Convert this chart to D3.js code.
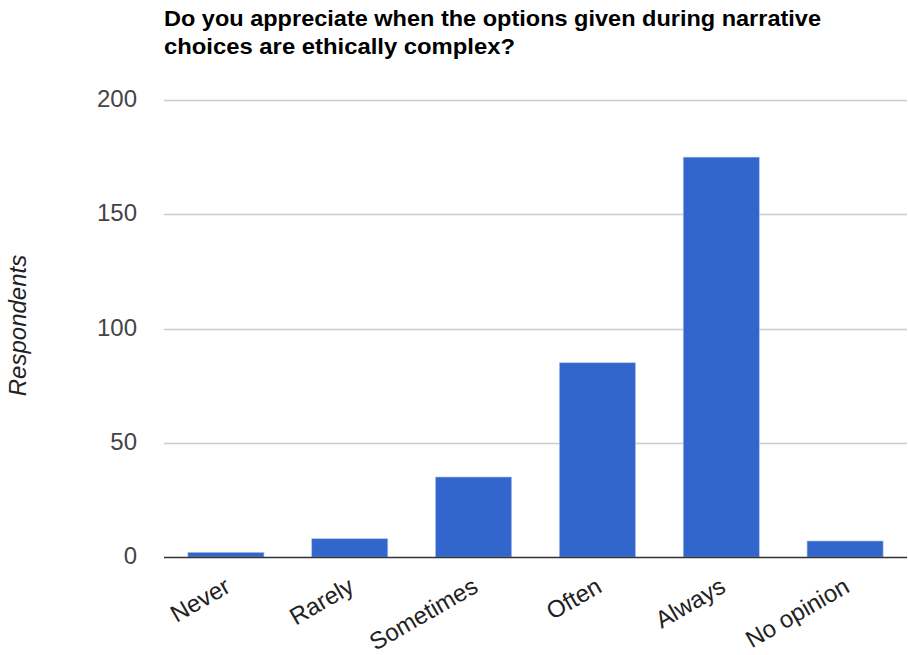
<!DOCTYPE html>
<html>
<head>
<meta charset="utf-8">
<script src="https://cdn.jsdelivr.net/npm/d3@7/dist/d3.min.js"></script>
<style>
  html, body { margin: 0; padding: 0; background: #fff; }
  svg { display: block; }
</style>
</head>
<body>
<svg id="chart" width="908" height="655"></svg>
<script>
// Survey responses per answer option
const categories = ["Never", "Rarely", "Sometimes", "Often", "Always", "No opinion"];
const respondents = [2, 8, 35, 85, 175, 7];
const yTicks = [0, 50, 100, 150, 200];
const titleLines = [
  "Do you appreciate when the options given during narrative",
  "choices are ethically complex?"
];
const titleWidths = [657, 351];
const yAxisTitle = "Respondents";

const svg = d3.select("#chart");
const plot = { left: 164, right: 907, top: 100, bottom: 557 };
const FONT = "'Liberation Sans', Arial, sans-serif";

const x = d3.scaleBand()
  .domain(categories)
  .range([plot.left, plot.right])
  .paddingInner(0.386)
  .paddingOuter(0.193);

const y = d3.scaleLinear()
  .domain([0, 200])
  .range([plot.bottom, plot.top]);

// Title (two lines)
const title = svg.append("g")
  .attr("font-family", FONT)
  .attr("font-weight", "bold")
  .attr("font-size", 22)
  .attr("fill", "#000");
titleLines.forEach((t, i) => {
  title.append("text")
    .attr("x", plot.left)
    .attr("y", 26 + i * 28)
    .attr("textLength", titleWidths[i])
    .attr("lengthAdjust", "spacingAndGlyphs")
    .text(t);
});

// Gridlines
svg.append("g")
  .selectAll("line")
  .data(yTicks.filter(d => d !== 0))
  .join("line")
  .attr("x1", plot.left)
  .attr("x2", plot.right)
  .attr("y1", d => Math.round(y(d)) + 0.5)
  .attr("y2", d => Math.round(y(d)) + 0.5)
  .attr("stroke", "#cccccc")
  .attr("stroke-width", 1.5);

// Y axis tick labels
const yAxis = d3.axisLeft(y)
  .tickValues(yTicks)
  .tickSize(0)
  .tickPadding(27);
svg.append("g")
  .attr("transform", `translate(${plot.left},0)`)
  .call(yAxis)
  .call(g => g.select(".domain").remove())
  .call(g => g.selectAll("text")
    .attr("font-family", FONT)
    .attr("font-size", 24)
    .attr("dy", "0.28em")
    .attr("fill", "#444"));

// Y axis title
svg.append("text")
  .attr("transform", `translate(26,${(plot.top + plot.bottom) / 2 - 3}) rotate(-90)`)
  .attr("text-anchor", "middle")
  .attr("font-family", FONT)
  .attr("font-style", "italic")
  .attr("font-size", 24)
  .attr("fill", "#222")
  .text(yAxisTitle);

// Bars
svg.append("g")
  .selectAll("rect")
  .data(categories.map((c, i) => ({ c, v: respondents[i] })))
  .join("rect")
  .attr("x", d => x(d.c))
  .attr("width", x.bandwidth())
  .attr("y", d => y(d.v))
  .attr("height", d => y(0) - y(d.v))
  .attr("fill", "#3366cc")
  .attr("stroke", "#a9bfea")
  .attr("stroke-width", 0.6);

// Baseline
svg.append("line")
  .attr("x1", plot.left)
  .attr("x2", plot.right)
  .attr("y1", y(0) + 0.5)
  .attr("y2", y(0) + 0.5)
  .attr("stroke", "#333")
  .attr("stroke-width", 1.5);

// X axis category labels (rotated)
const xAxis = d3.axisBottom(x).tickSize(0).tickPadding(0);
svg.append("g")
  .attr("transform", `translate(0,${plot.bottom})`)
  .call(xAxis)
  .call(g => g.select(".domain").remove())
  .call(g => g.selectAll("text")
    .attr("font-family", FONT)
    .attr("font-size", 24)
    .attr("fill", "#222")
    .attr("text-anchor", "end")
    .attr("dy", null)
    .attr("y", 0)
    .attr("transform", "translate(6,34) rotate(-30)"));
</script>
</body>
</html>
